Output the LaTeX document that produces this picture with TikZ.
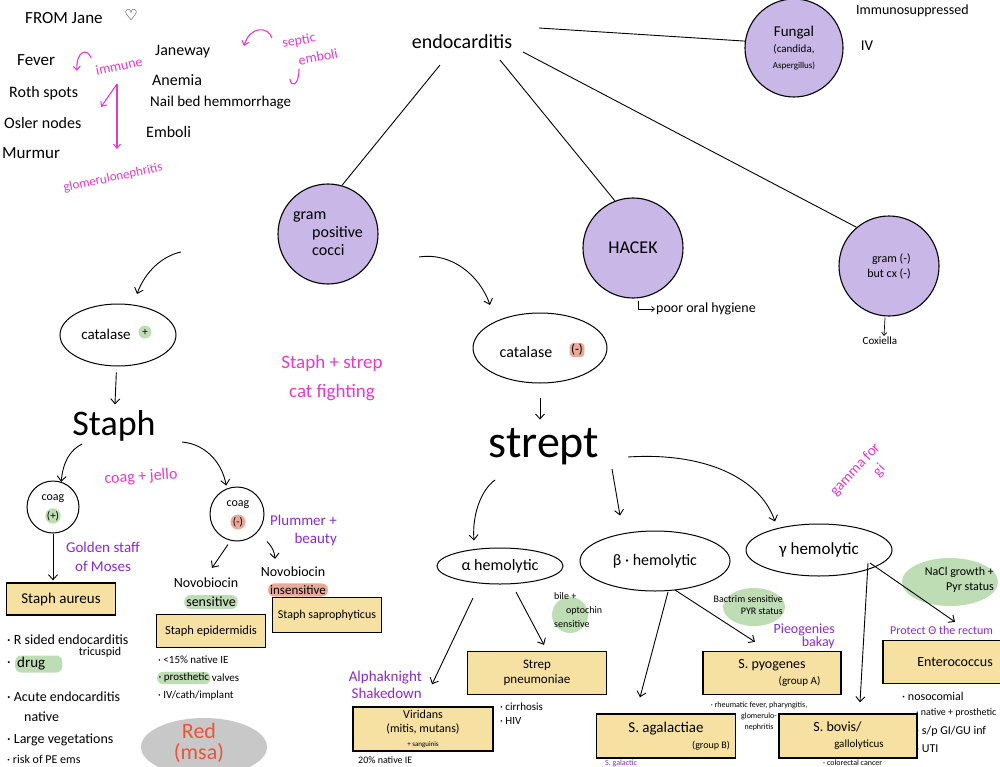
\documentclass[tikz,border=0pt]{standalone}
\usepackage{fontspec}
\setmainfont{Carlito}
\newfontfamily\dejavu{DejaVu Sans}
\usetikzlibrary{arrows.meta,shapes.geometric}
\definecolor{lav}{HTML}{C8B7E7}
\definecolor{ybox}{HTML}{F6E0A2}
\definecolor{hlgreen}{HTML}{BEDDB4}
\definecolor{hlred}{HTML}{E9A898}
\definecolor{mag}{HTML}{E03DC9}
\definecolor{purp}{HTML}{8A2CCB}
\definecolor{graybl}{HTML}{C8C8C8}
\definecolor{redtxt}{HTML}{E8553B}
\newcommand\fz[2]{\fontsize{#1}{#2}\selectfont}
\begin{document}
\begin{tikzpicture}[x=1pt,y=-1pt,
 every node/.style={inner sep=1pt,font=\fz{14}{16}},
 arr/.style={-{Straight Barb[length=5pt,width=9pt]},line width=0.9pt},
 sarr/.style={-{Straight Barb[length=3pt,width=5pt]},line width=0.7pt},
 marr/.style={-{Straight Barb[length=4pt,width=7pt]},draw=mag,line width=1.1pt},
 ln/.style={line width=0.9pt},
 pc/.style={circle,draw,line width=1.1pt,fill=lav,minimum size=#1,inner sep=0pt,align=center},
 yb/.style 2 args={rectangle,draw,line width=1.3pt,fill=ybox,minimum width=#1,minimum height=#2,inner sep=0pt,align=center},
 ov/.style={ellipse,draw,line width=1pt,inner sep=0pt},
 hg/.style={fill=hlgreen,rounded corners=6pt,inner sep=2pt},
 hr/.style={fill=hlred,rounded corners=6pt,inner sep=2pt},
 mg/.style={text=mag},
 pu/.style={text=purp},
 lw/.style={anchor=west}]
\useasboundingbox[fill=white] (0,0) rectangle (1000,767);
\clip (0,0) rectangle (1000,767);

% ---------- top left notes
\node[lw,font=\fz{17}{19}] (from) at (24,18) {FROM Jane};
\node[font=\dejavu\fz{15}{15}] (heart) at (131,15) {♡};
\node[lw,font=\fz{17}{19}] (fever) at (16,60) {Fever};
\node[lw,font=\fz{16}{18}] (roth) at (8,93) {Roth spots};
\node[lw,font=\fz{16}{18}] (osler) at (3,123) {Osler nodes};
\node[lw,font=\fz{17}{18}] (murmur) at (1,153) {Murmur};
\node[mg,rotate=12,font=\fz{14}{16}] (imm) at (119,66) {immune};
\node[mg,rotate=12,font=\fz{13}{15}] (glom) at (113,178) {glomerulonephritis};
\coordinate (c1s) at (91,58); \coordinate (c1e) at (77,71);
\draw[marr] (c1s) .. controls (88,48) and (76,50) .. (c1e);
\coordinate (i1) at (117,84); \coordinate (i2) at (101,107); \coordinate (i3) at (117,149);
\draw[marr] (i1) -- (i2);
\draw[marr] (i1) -- (i3);

\node[lw,font=\fz{16}{18}] (jane) at (154,52) {Janeway};
\node[lw,font=\fz{16}{18}] (anem) at (151,80) {Anemia};
\node[lw,font=\fz{15}{17}] (nail) at (149,103) {Nail bed hemmorrhage};
\node[lw,font=\fz{16}{18}] (embo) at (145,132) {Emboli};
\coordinate (s1) at (272,38); \coordinate (s2) at (244,46);
\draw[marr] (s1) .. controls (268,26) and (250,26) .. (s2);
\node[mg,rotate=10,font=\fz{14}{16}] (sept) at (299,41) {septic};
\node[mg,rotate=10,font=\fz{14}{16}] (semb) at (318,57) {emboli};
\coordinate (h1) at (299,69); \coordinate (h2) at (290,79);
\draw[mag,line width=1.1pt] (h1) .. controls (299,86) and (291,88) .. (h2);

% ---------- top hierarchy
\node[font=\fz{20}{22}] (endo) at (462,42) {endocarditis};
\node[pc=98] (fungal) at (794,48) {\fz{15}{16}Fungal\\\fz{11}{13}(candida,\\\fz{9}{11}Aspergillus)};
\node[lw,font=\fz{14}{16}] (immuno) at (855,11) {Immunosuppressed};
\node[font=\fz{15}{16}] (iv) at (867,46) {IV};
\node[pc=100,align=left,font=\fz{16}{18}] (gpc) at (328,234) {gram\\\hspace*{1.2em}positive\\\hspace*{1.2em}cocci};
\node[pc=100,font=\fz{18}{20}] (hacek) at (633,248) {HACEK};
\node[pc=100,align=right,font=\fz{12}{15}] (gneg) at (889,266) {gram (-)\\but cx (-)};
\node[lw,font=\fz{14}{16}] (poor) at (655,309) {poor oral hygiene};
\node[font=\fz{11}{13}] (cox) at (880,341) {Coxiella};

\draw[ln] ([shift={(-22,23)}]endo.center) -- (gpc.74);
\draw[ln] ([shift={(38,18)}]endo.center) -- (hacek.111);
\draw[ln] ([shift={(61,10)}]endo.center) -- (gneg.130);
\draw[ln] ([shift={(77,-14)}]endo.center) -- (fungal.172);
\draw[sarr] ([shift={(5,2)}]hacek.south) |- (poor.west);
\draw[sarr] ([shift={(-4,1)}]gneg.south) -- ([shift={(4,0)}]cox.north);

\coordinate (g1s) at (181,252); \coordinate (g1e) at (137,294);
\draw[arr] (g1s) .. controls (162,256) and (145,272) .. (g1e);
\coordinate (g2s) at (419,257); \coordinate (g2e) at (490,305);
\draw[arr] (g2s) .. controls (452,252) and (480,276) .. (g2e);

% ---------- staph branch
\node[ov,minimum width=116,minimum height=62] (catp) at (118,335) {};
\node[font=\fz{15}{17}] (catpt) at (106,334) {catalase};
\node[circle,fill=hlgreen,inner sep=0pt,minimum size=13,font=\fz{11}{11}] (catpp) at (145,332) {+};
\node[font=\fz{36}{38}] (staph) at (114,426) {Staph};
\draw[arr,shorten <=6pt,shorten >=5pt] (catp) -- (staph);
\node[mg,rotate=4,font=\fz{16}{18}] (cj) at (141,477) {coag + jello};

\node[circle,draw,line width=1pt,minimum size=52,inner sep=0pt] (coagp) at (53,507) {};
\node[font=\fz{12}{13}] (coagpt) at (53,499) {coag};
\node[circle,fill=hlgreen,inner sep=0pt,minimum size=15,font=\fz{11}{11}] (coagpp) at (53,516) {(+)};
\node[circle,draw,line width=1pt,minimum size=54,inner sep=0pt] (coagn) at (237,514) {};
\node[font=\fz{12}{13}] (coagnt) at (238,505) {coag};
\node[circle,fill=hlred,inner sep=0pt,minimum size=15,font=\fz{11}{11}] (coagnm) at (238,522) {(-)};
\coordinate (st1) at (82,444); \coordinate (st2) at (182,442);
\draw[arr] (st1) .. controls (70,450) and (63,462) .. (coagp.72);
\draw[arr,shorten >=3pt] (st2) .. controls (205,444) and (222,462) .. (coagn.112);

\node[pu,align=center,font=\fz{15}{19}] (gold) at (103,557) {Golden staff\\of Moses};
\node[yb={109}{32},font=\fz{15}{16}] (aureus) at (61,599) {Staph aureus};
\draw[arr,shorten >=2pt] (coagp.south) -- (coagp.south |- aureus.north);
\node[lw,font=\fz{14}{16}] (au1) at (6,640) {· R sided endocarditis};
\node[lw,font=\fz{14}{16}] (au2b) at (6,664) {·};
\node[lw,hg,font=\fz{15}{16}] (au2) at (15,664) {drug\hspace*{1em}};
\node[font=\fz{12}{14}] (au2t) at (100,652) {tricuspid};
\node[lw,font=\fz{14}{16}] (au3) at (6,697) {· Acute endocarditis};
\node[lw,font=\fz{14}{16}] (au3n) at (23,717) {native};
\node[lw,font=\fz{14}{16}] (au4) at (6,740) {· Large vegetations};
\node[lw,font=\fz{12}{13}] (au5) at (6,759) {· risk of PE ems};

\node[font=\fz{14}{16}] (novo1) at (206,583) {Novobiocin};
\node[hg,font=\fz{14}{16}] (sens1) at (211,602) {sensitive};
\node[yb={109}{33},font=\fz{12.5}{14}] (epid) at (211,631) {Staph epidermidis};
\node[font=\fz{14}{16}] (novo2) at (293,572) {Novobiocin};
\node[hr,font=\fz{13}{15}] (insens) at (298,590) {insensitive};
\node[yb={109}{35},font=\fz{12}{14}] (sapro) at (327,615) {Staph saprophyticus};
\node[pu,align=right,anchor=east,font=\fz{15}{18}] (plum) at (338,530) {Plummer +\\beauty};
\draw[arr] ([shift={(-9,3)}]coagn.south) -- ([shift={(6,-9)}]novo1.north);
\draw[arr] ([shift={(30,0)}]coagn.south) to[bend left=20] ([shift={(-18,-7)}]novo2.north);

\node[lw,font=\fz{11}{13}] (ep1) at (157,660) {· <15\% native IE};
\node[lw,hg,inner sep=1.5pt,font=\fz{11}{13}] (ep2) at (157,678) {· prosthetic};
\node[lw,font=\fz{11}{13}] (ep2v) at (ep2.east) {valves};
\node[lw,font=\fz{11}{13}] (ep3) at (157,696) {· IV/cath/implant};

\node[ellipse,fill=graybl,minimum width=126,minimum height=58,inner sep=0pt] (redb) at (204,747) {};
\node[text=redtxt,align=center,font=\fz{22}{21}] (redt) at (199,743) {Red\\(msa)};

\node[mg,align=center,font=\fz{19}{29}] (ss) at (332,378) {Staph + strep\\cat fighting};

% ---------- strep branch
\node[ov,minimum width=134,minimum height=70] (catn) at (540,348) {};
\node[font=\fz{16}{18}] (catnt) at (526,352) {catalase};
\node[hr,rounded corners=4pt,inner sep=1.5pt,font=\fz{13}{14}] (catnm) at (577,350) {(-)};
\node[font=\fz{46}{48}] (strept) at (544,447) {strept};
\draw[arr,shorten <=14pt,shorten >=8pt] (catn.south) -- (catn.south |- strept.north);

\coordinate (sa) at (495,480); \coordinate (sb) at (612,469); \coordinate (sg) at (628,457);
\node[ov,minimum width=126,minimum height=36,font=\fz{16}{18}] (alpha) at (500,566) {α hemolytic};
\node[ov,minimum width=150,minimum height=60,font=\fz{16}{18}] (beta) at (655,561) {β · hemolytic};
\node[ov,minimum width=146,minimum height=52,font=\fz{17}{19}] (gamma) at (819,550) {γ hemolytic};
\draw[arr] (sa) .. controls (481,490) and (472,515) .. ([shift={(-26,-7)}]alpha.north);
\draw[arr] (sb) -- ([shift={(-35,-15)}]beta.north);
\draw[arr] (sg) .. controls (705,452) and (760,478) .. ([shift={(-44,-2)}]gamma.north);
\node[mg,rotate=47,align=right,font=\fz{15}{18}] (gam) at (862,476) {gamma for\\gi\hspace*{0.8em}};

% alpha children
\node[circle,fill=hlgreen,minimum size=36,inner sep=0pt] (bileb) at (570,615) {};
\node[anchor=north west,align=left,font=\fz{10}{14}] (bilet) at (553,591) {bile +\\\hspace*{1.2em}optochin\\sensitive};
\node[yb={139}{43},font=\fz{13}{15}] (pneum) at (537,673) {Strep\\pneumoniae};
\node[lw,font=\fz{11}{13}] (pn1) at (499,707) {· cirrhosis};
\node[lw,font=\fz{11}{13}] (pn2) at (499,721) {· HIV};
\node[pu,align=right,anchor=east,font=\fz{15}{17}] (ak) at (423,685) {Alphaknight\\Shakedown};
\node[yb={140}{44},font=\fz{12}{14}] (virid) at (423,729) {Viridans\\(mitis, mutans)\\\fz{7}{8}+ sanguinis};
\node[lw,font=\fz{10}{11}] (vi1) at (357,760) {20\% native IE};
\draw[arr] ([shift={(-27,32)}]alpha.center) -- ([shift={(9,-22)}]virid.north);
\draw[arr] ([shift={(16,26)}]alpha.center) -- ([shift={(7,-6)}]pneum.north);

% beta children
\node[ellipse,fill=hlgreen,minimum width=62,minimum height=38,inner sep=0pt] (bacb) at (754,607) {};
\node[align=right,anchor=east,font=\fz{10}{12}] (bact) at (784,605) {Bactrim sensitive\\PYR status};
\node[pu,align=right,anchor=east,font=\fz{14}{13}] (pie) at (836,636) {Pieogenies\\bakay};
\node[yb={138}{43}] (pyog) at (772,673) {\fz{14}{14}S. pyogenes\\\fz{11}{12}\hspace*{5em}(group A)};
\node[align=center,font=\fz{8}{11}] (pyl) at (759,716) {· rheumatic fever, pharyngitis,\\glomerulo-\\nephritis};
\node[yb={139}{44}] (agal) at (666,736) {\fz{15}{15}S. agalactiae\\\fz{10}{11}\hspace*{9em}(group B)};
\node[pu,lw,font=\fz{8}{9}] (sgal) at (604,763) {S. galactic};
\draw[arr] ([shift={(13,31)}]beta.center) -- ([shift={(-26,-16)}]agal.north);
\draw[arr] ([shift={(20,29)}]beta.center) -- ([shift={(-17,-9)}]pyog.north);

% gamma children
\node[ellipse,fill=hlgreen,minimum width=96,minimum height=48,inner sep=0pt] (naclb) at (950,582) {};
\node[align=right,anchor=east,font=\fz{12}{15}] (naclt) at (995,580) {NaCl growth +\\Pyr status};
\node[pu,lw,font=\fz{12}{14}] (prot) at (889,630) {Protect Θ the rectum};
\node[yb={144}{43},font=\fz{14}{16}] (entero) at (955,662) {Enterococcus};
\node[lw,font=\fz{12}{14}] (en1) at (901,696) {· nosocomial};
\node[lw,font=\fz{10}{12}] (en2) at (915,713) {· native + prosthetic};
\node[lw,font=\fz{12}{14}] (en3) at (915,731) {· s/p GI/GU inf};
\node[lw,font=\fz{12}{14}] (en4) at (915,749) {· UTI};
\node[yb={138}{44}] (bovis) at (848,736) {\fz{14}{15}S. bovis/\hspace*{1.5em}\\\fz{11}{12}\hspace*{2em}gallolyticus};
\node[lw,font=\fz{8}{9}] (bov1) at (822,763) {· colorectal cancer};
\draw[arr] ([shift={(49,13)}]gamma.center) -- ([shift={(12,-11)}]bovis.north);
\draw[arr] ([shift={(51,13)}]gamma.center) -- ([shift={(0,-18)}]entero.north);
\end{tikzpicture}
\end{document}
